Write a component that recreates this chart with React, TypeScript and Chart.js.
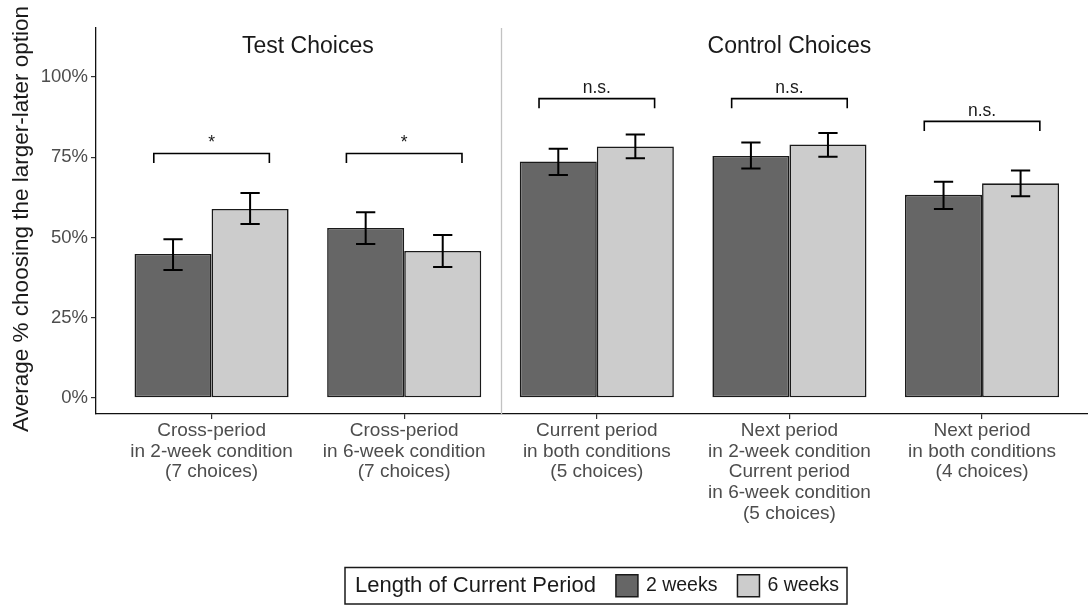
import React, { useEffect, useRef } from "react";
import { Chart, registerables } from "chart.js";

Chart.register(...registerables);

// ---------- data ----------
const CATEGORY_LABELS: string[][] = [
  ["Cross-period", "in 2-week condition", "(7 choices)"],
  ["Cross-period", "in 6-week condition", "(7 choices)"],
  ["Current period", "in both conditions", "(5 choices)"],
  ["Next period", "in 2-week condition", "Current period", "in 6-week condition", "(5 choices)"],
  ["Next period", "in both conditions", "(4 choices)"],
];
const SERIES_NAMES = ["2 weeks", "6 weeks"];
const VALUES_2W = [44.9, 53.0, 73.7, 75.4, 63.3];
const VALUES_6W = [58.9, 45.8, 78.4, 79.0, 66.9];
const LOW_2W = [39.9, 48.0, 69.5, 71.5, 58.9];
const HIGH_2W = [49.5, 57.9, 77.7, 79.6, 67.4];
const LOW_6W = [54.2, 40.8, 74.7, 75.2, 62.9];
const HIGH_6W = [63.9, 50.8, 82.1, 82.6, 70.9];
const SIG_LABELS = ["*", "*", "n.s.", "n.s.", "n.s."];
const BRACKET_Y = [76.2, 76.2, 93.3, 93.3, 86.2];
const BRACKET_DROP = 3;
const Y_TICKS = [0, 25, 50, 75, 100];
const FACET_TITLES = ["Test Choices", "Control Choices"];
const FACET_START = [0, 2];
const FACET_END = [1, 4];
const LEGEND_TITLE = "Length of Current Period";
const Y_TITLE = "Average % choosing the larger-later option";

const COLORS = ["#666666", "#cccccc"];
const FONT = "'Liberation Sans', Arial, Helvetica, sans-serif";

const LOWS = [LOW_2W, LOW_6W];
const HIGHS = [HIGH_2W, HIGH_6W];

const annotPlugin = {
  id: "annot",
  beforeDatasetsDraw(chart: any) {
    const { ctx, chartArea, scales } = chart;
    const x = scales.x;
    ctx.save();
    ctx.strokeStyle = "#c2c2c2";
    ctx.lineWidth = 1.3;
    for (let f = 1; f < FACET_START.length; f++) {
      const px = Math.round(x.getPixelForValue(FACET_START[f] - 0.5)) + 0.5;
      ctx.beginPath();
      ctx.moveTo(px, chartArea.top);
      ctx.lineTo(px, chartArea.bottom);
      ctx.stroke();
    }
    ctx.restore();
  },
  afterDatasetsDraw(chart: any) {
    const { ctx, chartArea, scales } = chart;
    const x = scales.x;
    const y = scales.y;
    ctx.save();
    // error bars
    ctx.strokeStyle = "#000";
    ctx.lineWidth = 2;
    for (let d = 0; d < 2; d++) {
      const meta = chart.getDatasetMeta(d);
      meta.data.forEach((bar: any, i: number) => {
        const cx = bar.x;
        const hw = bar.width * 0.125;
        const y1 = y.getPixelForValue(LOWS[d][i]);
        const y2 = y.getPixelForValue(HIGHS[d][i]);
        ctx.beginPath();
        ctx.moveTo(cx, y1);
        ctx.lineTo(cx, y2);
        ctx.moveTo(cx - hw, y1);
        ctx.lineTo(cx + hw, y1);
        ctx.moveTo(cx - hw, y2);
        ctx.lineTo(cx + hw, y2);
        ctx.stroke();
      });
    }
    // brackets
    const m0 = chart.getDatasetMeta(0);
    const m1 = chart.getDatasetMeta(1);
    ctx.lineWidth = 1.6;
    ctx.fillStyle = "#1a1a1a";
    ctx.font = `17.5px ${FONT}`;
    ctx.textAlign = "center";
    ctx.textBaseline = "alphabetic";
    for (let i = 0; i < BRACKET_Y.length; i++) {
      const b0 = m0.data[i];
      const b1 = m1.data[i];
      const left = b0.x - b0.width * 0.25;
      const right = b1.x + b1.width * 0.25;
      const yy = y.getPixelForValue(BRACKET_Y[i]);
      const yd = y.getPixelForValue(BRACKET_Y[i] - BRACKET_DROP);
      ctx.beginPath();
      ctx.moveTo(left, yd);
      ctx.lineTo(left, yy);
      ctx.lineTo(right, yy);
      ctx.lineTo(right, yd);
      ctx.stroke();
      ctx.fillText(SIG_LABELS[i], (left + right) / 2, yy - 5.5);
    }
    // facet titles
    ctx.font = `23px ${FONT}`;
    ctx.fillStyle = "#1a1a1a";
    ctx.textBaseline = "middle";
    for (let f = 0; f < FACET_TITLES.length; f++) {
      const cx = (x.getPixelForValue(FACET_START[f]) + x.getPixelForValue(FACET_END[f])) / 2;
      ctx.fillText(FACET_TITLES[f], cx, chartArea.top + 19);
    }
    ctx.restore();
  },
  afterDraw(chart: any) {
    const { ctx, chartArea } = chart;
    ctx.save();
    // y axis title
    ctx.translate(22, (chartArea.top + chartArea.bottom) / 2 - 2);
    ctx.rotate(-Math.PI / 2);
    ctx.font = `22.5px ${FONT}`;
    ctx.fillStyle = "#1a1a1a";
    ctx.textAlign = "center";
    ctx.textBaseline = "middle";
    ctx.fillText(Y_TITLE, 0, 0);
    ctx.restore();

    // legend
    ctx.save();
    ctx.textBaseline = "middle";
    ctx.textAlign = "left";
    ctx.font = `22px ${FONT}`;
    const titleW = ctx.measureText(LEGEND_TITLE).width;
    ctx.font = `19.5px ${FONT}`;
    const labW = SERIES_NAMES.map((s) => ctx.measureText(s).width);
    const padL = 10, gapTitle = 20, sw = 22, gapSw = 8, gapItem = 20, padR = 8;
    const total = padL + titleW + gapTitle + sw + gapSw + labW[0] + gapItem + sw + gapSw + labW[1] + padR;
    const cxl = (chartArea.left + chartArea.right) / 2 + 4;
    const left = cxl - total / 2;
    const top = 567.5;
    const h = 36.5;
    const cy = top + h / 2;
    ctx.fillStyle = "#fff";
    ctx.fillRect(left, top, total, h);
    ctx.strokeStyle = "#1a1a1a";
    ctx.lineWidth = 1.5;
    ctx.strokeRect(left, top, total, h);
    let px = left + padL;
    ctx.fillStyle = "#1a1a1a";
    ctx.font = `22px ${FONT}`;
    ctx.fillText(LEGEND_TITLE, px, cy);
    px += titleW + gapTitle;
    for (let k = 0; k < 2; k++) {
      ctx.fillStyle = COLORS[k];
      ctx.fillRect(px, cy - sw / 2, sw, sw);
      ctx.strokeStyle = "#1a1a1a";
      ctx.lineWidth = 1.5;
      ctx.strokeRect(px, cy - sw / 2, sw, sw);
      px += sw + gapSw;
      ctx.fillStyle = "#1a1a1a";
      ctx.font = `19.5px ${FONT}`;
      ctx.fillText(SERIES_NAMES[k], px, cy);
      px += labW[k] + gapItem;
    }
    ctx.restore();
  },
};

function zeroPad(axis: any) {
  axis.paddingLeft = 0;
  axis.paddingRight = 0;
  axis.paddingTop = 0;
  axis.paddingBottom = 0;
}

export default function App() {
  const ref = useRef<HTMLCanvasElement>(null);
  useEffect(() => {
    Chart.defaults.font.family = FONT;
    const valueSets = [VALUES_2W, VALUES_6W];
    const chart = new Chart(ref.current as HTMLCanvasElement, {
      type: "bar",
      data: {
        datasets: valueSets.map((vals, d) => ({
          label: SERIES_NAMES[d],
          data: vals.map((v, i) => ({ x: i, y: v })),
          backgroundColor: COLORS[d],
          borderColor: "#1a1a1a",
          borderWidth: 1.6,
          borderSkipped: false,
          categoryPercentage: 0.8,
          barPercentage: 1.0,
        })),
      },
      options: {
        responsive: false,
        animation: false,
        devicePixelRatio: 1,
        layout: { padding: { top: 28, left: 0, right: 0, bottom: 0 } },
        plugins: { legend: { display: false }, tooltip: { enabled: false } },
        scales: {
          x: {
            type: "linear",
            min: -0.6,
            max: 4.55,
            offset: false,
            grid: { display: true, offset: false, drawOnChartArea: false, drawTicks: true, tickLength: 5, color: "#333", lineWidth: 1.2 },
            border: { display: true, color: "#111", width: 1.3 },
            ticks: {
              autoSkip: false,
              maxRotation: 0,
              minRotation: 0,
              padding: 1,
              color: "#4d4d4d",
              font: { size: 19, lineHeight: 1.1, family: FONT },
              callback: (v: any) => CATEGORY_LABELS[v] ?? "",
            },
            afterBuildTicks: (axis: any) => {
              axis.ticks = CATEGORY_LABELS.map((_, i) => ({ value: i }));
            },
            afterFit: (axis: any) => {
              axis.height = 198;
              zeroPad(axis);
            },
          },
          y: {
            type: "linear",
            min: -5,
            max: 115.3,
            grid: { display: true, offset: false, drawOnChartArea: false, drawTicks: true, tickLength: 5, color: "#333", lineWidth: 1.2 },
            border: { display: true, color: "#111", width: 1.3 },
            ticks: {
              padding: 3,
              color: "#4d4d4d",
              font: { size: 18.5, family: FONT },
              callback: (v: any) => `${v}%`,
            },
            afterBuildTicks: (axis: any) => {
              axis.ticks = Y_TICKS.map((v) => ({ value: v }));
            },
            afterFit: (axis: any) => {
              axis.width = 96;
              zeroPad(axis);
            },
          },
        },
      } as any,
      plugins: [annotPlugin],
    });
    return () => chart.destroy();
  }, []);
  return (
    <div style={{ position: "fixed", left: 0, top: 0, width: 1088, height: 612, background: "#fff" }}>
      <canvas ref={ref} width={1088} height={612} style={{ display: "block", width: 1088, height: 612 }} />
    </div>
  );
}
